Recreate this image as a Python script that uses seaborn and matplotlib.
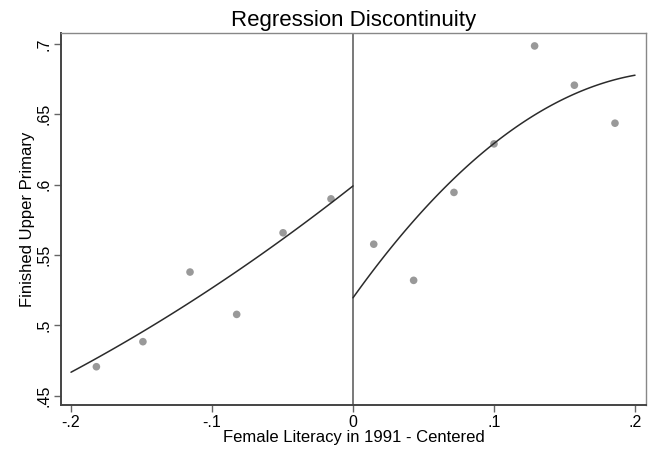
import numpy as np
import pandas as pd
import matplotlib
matplotlib.use("Agg")
import matplotlib.pyplot as plt
import seaborn as sns

# Binned means
left_x = [-0.182, -0.149, -0.1156, -0.0825, -0.0496, -0.0156]
left_y = [0.4706, 0.4884, 0.5379, 0.5078, 0.5658, 0.5899]
right_x = [0.0147, 0.043, 0.0716, 0.100, 0.1288, 0.157, 0.1858]
right_y = [0.5577, 0.532, 0.5945, 0.629, 0.6986, 0.6707, 0.6437]

# Quadratic fit coefficients (a, b, c for a*x^2 + b*x + c)
left_fit_coef = [0.635, 0.789, 0.5991]
right_fit_coef = [-3.06, 1.403, 0.5196]
left_fit_range = [-0.2, 0.0]
right_fit_range = [0.0, 0.2]

x_ticks = [-0.2, -0.1, 0.0, 0.1, 0.2]
x_tick_labels = ["-.2", "-.1", "0", ".1", ".2"]
y_ticks = [0.45, 0.5, 0.55, 0.6, 0.65, 0.7]
y_tick_labels = [".45", ".5", ".55", ".6", ".65", ".7"]

title = "Regression Discontinuity"
x_label = "Female Literacy in 1991 - Centered"
y_label = "Finished Upper Primary"

sns.set_theme(style="white")
plt.rcParams["font.family"] = ["Liberation Sans", "DejaVu Sans"]

fig = plt.figure(figsize=(6.59, 4.59), dpi=100)
ax = fig.add_axes([61 / 659, 1 - 405 / 459, (646 - 61) / 659, (405 - 33) / 459])

pts = pd.DataFrame({"x": left_x + right_x, "y": left_y + right_y})
sns.scatterplot(data=pts, x="x", y="y", ax=ax, color="#999999", s=30,
                edgecolor="none", zorder=3)

for coef, (lo, hi) in [(left_fit_coef, left_fit_range), (right_fit_coef, right_fit_range)]:
    gx = np.linspace(lo, hi, 100)
    fit = pd.DataFrame({"x": gx, "y": np.polyval(coef, gx)})
    sns.lineplot(data=fit, x="x", y="y", ax=ax, color="#2b2b2b", lw=1.1, zorder=4)

ax.axvline(0, color="#555555", lw=1.1, zorder=2)

ax.set_xlim(-0.2071, 0.2078)
ax.set_ylim(0.4434, 0.7078)
ax.set_xticks(x_ticks)
ax.set_xticklabels(x_tick_labels)
ax.set_yticks(y_ticks)
ax.set_yticklabels(y_tick_labels, rotation=90, va="center")
ax.tick_params(axis="both", direction="out", length=5, width=1, color="#666666",
               labelsize=11.5, pad=2, labelcolor="black")
ax.tick_params(axis="x", bottom=True)
ax.tick_params(axis="y", left=True)

for s in ["left", "bottom"]:
    ax.spines[s].set_color("#444444")
    ax.spines[s].set_linewidth(1.4)
for s in ["top", "right"]:
    ax.spines[s].set_color("#888888")
    ax.spines[s].set_linewidth(1.0)

ax.set_title(title, fontsize=16, pad=5, color="black")
ax.set_xlabel(x_label, fontsize=12, labelpad=0, color="black")
ax.set_ylabel(y_label, fontsize=12, labelpad=1, color="black")

fig.savefig("out.png", dpi=100)
